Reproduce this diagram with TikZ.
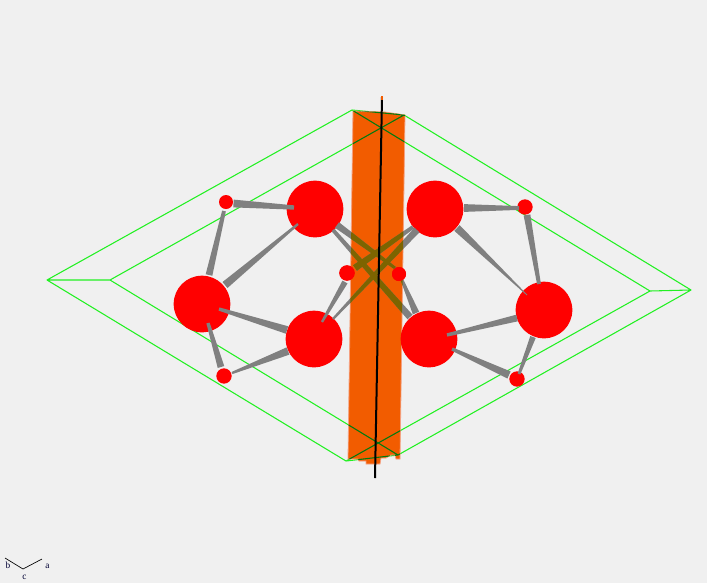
\documentclass[tikz,border=0pt]{standalone}
\usepackage{fontspec}
\setmainfont{Liberation Serif}
\usetikzlibrary{calc}
\definecolor{bgc}{HTML}{F0F0F0}
\definecolor{boxgreen}{HTML}{22F022}
\definecolor{boxdark}{HTML}{007A10}
\definecolor{slab}{HTML}{F25C00}
\definecolor{slabedge}{HTML}{F5A080}
\definecolor{bondgrey}{HTML}{808080}
\definecolor{bondolive}{HTML}{7D6400}
\definecolor{atomred}{HTML}{FF0000}
\tikzset{
  big/.style={circle,fill=atomred,inner sep=0pt,minimum size=42.5pt},
  oxy/.style={circle,fill=atomred,inner sep=0pt,minimum size=11.5pt},
  axislabel/.style={inner sep=0pt,font=\fontsize{7}{8}\selectfont,text=black!80!blue}
}
\def\bondcolor{bondgrey}
\newcommand\bond[6]{%
  \coordinate (p) at ([shift={(#2)}]#1.center);
  \coordinate (q) at ([shift={(#5)}]#4.center);
  \pgfmathsetmacro\wa{(#3+0.8)*0.375}%
  \pgfmathsetmacro\wb{(#6+0.8)*0.375}%
  \fill[\bondcolor] ($(p)!\wa pt!90:(q)$) -- ($(p)!\wa pt!-90:(q)$)
     -- ($(q)!\wb pt!90:(p)$) -- ($(q)!\wb pt!-90:(p)$) -- cycle;}
\newcommand\outerbonds{%
  \bond{S1}{7.5,1.5}{7}{A1}{-21,-1.5}{3.5}
  \bond{S1}{-2,9}{3}{A3}{7,-29}{6}
  \bond{A3}{23,-19}{7}{A1}{-17,15}{1.5}
  \bond{A3}{17,5}{2.5}{A4}{-27,-9}{7}
  \bond{A3}{6,19}{2.5}{S3}{-3,-9}{6}
  \bond{S3}{8,-3}{1.5}{A4}{-26,12}{7}
  \bond{A2}{29,-1}{7}{S2}{-6,1}{3}
  \bond{S2}{2,8}{6}{A6}{-5,-26}{3}
  \bond{A2}{22,19}{7}{A6}{-17,-15}{0}
  \bond{A6}{-27,8}{6}{A5}{18,-4}{2.5}
  \bond{A5}{23,10}{2.5}{S4}{-8,-4}{7}
  \bond{A6}{-11,27}{5}{S4}{2,-5}{2}}
\newcommand\innerbonds{%
  \bond{S5}{-2,9}{5}{A4}{8,-17}{1.5}
  \bond{A4}{19,-20}{1.5}{A2}{-18,21}{6}
  \bond{S5}{8,-5}{6}{A2}{-22,18}{3}
  \bond{A1}{22,16}{6}{S6}{-4,-6}{2}
  \bond{A1}{18,21}{3}{A5}{-19,-22}{6}
  \bond{S6}{3,6}{2}{A5}{-13,-26}{6}}
\newcommand\boxedges[1]{%
  \draw[#1,line width=0.8pt,line join=round]
    (L1) -- (T1) -- (T2) -- (R1) -- (B2) -- (B1) -- (L1) -- (L2) -- (T2)
    (T1) -- (R2) -- (B1) (L2) -- (B2) (R2) -- (R1);}
\newcommand\slabpath{(353,111) -- (385,112) -- (405,115) -- (400,459)
    -- (396,459) -- (395,455) -- (391,455) -- (386,458) -- (381,458) -- (380,464)
    -- (366,464) -- (366,461) -- (359,461) -- (358,459) -- (348,459) -- cycle}
\begin{document}
\begin{tikzpicture}[x=0.75pt,y=-0.75pt]
\useasboundingbox[fill=bgc] (0,0) rectangle (707,583);
% box corners
\coordinate (L1) at (47,280);
\coordinate (L2) at (110,280);
\coordinate (T1) at (352,110);
\coordinate (T2) at (404,115);
\coordinate (R1) at (691,290);
\coordinate (R2) at (650,291);
\coordinate (B1) at (346,461);
\coordinate (B2) at (398,455);
\boxedges{boxgreen}
% slab
\fill[slab,draw=slabedge,line width=0.6pt] \slabpath;
\begin{scope}
  \clip \slabpath;
  \boxedges{boxdark}
\end{scope}
% atoms
\node[big] (A1) at (315,209) {};
\node[big] (A2) at (435,209) {};
\node[big] (A3) at (202,304) {};
\node[big] (A4) at (314,339) {};
\node[big] (A5) at (429,339) {};
\node[big] (A6) at (544,310) {};
\node[oxy,minimum size=10.5pt] (S1) at (226,202) {};
\node[oxy] (S2) at (525,207) {};
\node[oxy] (S3) at (224,376) {};
\node[oxy] (S4) at (517,379) {};
\node[oxy] (S5) at (347,273) {};
\node[oxy,minimum size=10.5pt] (S6) at (399,274) {};
% bonds
\outerbonds
\innerbonds
\begin{scope}
  \clip \slabpath;
  \def\bondcolor{bondolive}
  \innerbonds
\end{scope}
\node[oxy] at (S5) {};
\node[oxy,minimum size=10.5pt] at (S6) {};
% axis through the slab
\coordinate (axT) at (382,97);
\coordinate (axB) at (375,478);
\draw[black,line width=1.5pt] (axT) -- (axB);
\fill[slab] (380.8,96) rectangle (383.4,100);
% orientation key
\coordinate (kb) at (5,558);
\coordinate (kc) at (23,569);
\coordinate (ka) at (42,559);
\draw[black,line width=0.5pt] (kb) -- (kc) -- (ka);
\node[axislabel] (lb) at (8,565) {b};
\node[axislabel] (lc) at (24.5,577) {c};
\node[axislabel] (la) at (47.5,566) {a};
\end{tikzpicture}
\end{document}
